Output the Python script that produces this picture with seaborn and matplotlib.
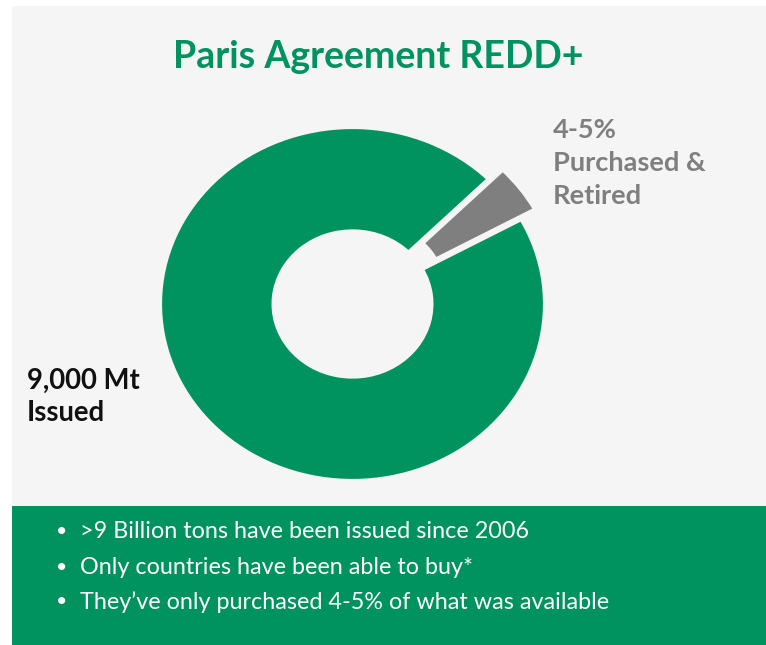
import matplotlib
matplotlib.use("Agg")
import matplotlib.pyplot as plt
import seaborn as sns
from matplotlib.patches import Rectangle

# Data
segments = ["Purchased & Retired", "Issued (not purchased)"]
shares = [4.5, 95.5]
title = "Paris Agreement REDD+"
purchased_label = ["4-5%", "Purchased &", "Retired"]
issued_label = ["9,000 Mt", "Issued"]
bullets = [
    ">9 Billion tons have been issued since 2006",
    "Only countries have been able to buy*",
    "They\u2019ve only purchased 4-5% of what was available",
]

GREEN = "#00925f"
GREY = "#7f7f7f"
PANEL = "#f5f5f5"

sns.set_theme(style="white")
plt.rcParams["font.family"] = ["Lato", "DejaVu Sans"]

W, H = 766, 645
fig = plt.figure(figsize=(W / 100, H / 100), dpi=100)
fig.patch.set_facecolor("white")


def fx(x):
    return x / W


def fy(y):
    return 1 - y / H


# background panel and bottom banner
fig.patches.append(Rectangle((fx(12), fy(506)), 1, fy(6) - fy(506),
                             transform=fig.transFigure, facecolor=PANEL,
                             edgecolor="none", zorder=-2))
fig.patches.append(Rectangle((fx(12), 0), 1, fy(506),
                             transform=fig.transFigure, facecolor=GREEN,
                             edgecolor="none", zorder=-2))

# donut axes: centre (352.5, 304) px, radii 192.5 x 177 px
cx, cy, rx, ry = 352.5, 304, 192.5, 177
ax_w, ax_h = 2.5 * rx, 2.5 * ry
ax = fig.add_axes([fx(cx - ax_w / 2), fy(cy + ax_h / 2), ax_w / W, ax_h / H])
ax.set_zorder(1)
ax.set_facecolor("none")
ax.patch.set_alpha(0)

pal = sns.color_palette([GREY, GREEN])
gray_span = shares[0] / sum(shares) * 360
wedges, _ = ax.pie(
    shares,
    colors=pal,
    startangle=36.8 - gray_span / 2,
    counterclock=True,
    explode=[0.09, 0],
    wedgeprops=dict(width=0.59, edgecolor=PANEL, linewidth=3),
)
for w in wedges:
    w.set_clip_on(False)
ax.set_aspect("auto")
ax.set_xlim(-1.25, 1.25)
ax.set_ylim(-1.25, 1.25)
ax.axis("off")

# title
fig.text(fx(378), fy(57), title, ha="center", va="center",
         fontsize=27, fontweight="bold", color=GREEN)

# slice labels
for i, line in enumerate(purchased_label):
    fig.text(fx(553), fy(130 + 33 * i), line, ha="left", va="center",
             fontsize=19.6, fontweight="bold", color=GREY)
for i, line in enumerate(issued_label):
    fig.text(fx(27), fy(381 + 32 * i), line, ha="left", va="center",
             fontsize=19.8, fontweight="bold", color="#111111")

# bullet list in the banner
for i, line in enumerate(bullets):
    y = 532 + 35 * i
    fig.text(fx(56), fy(y), "\u2022", ha="left", va="center",
             fontsize=14, color="white")
    fig.text(fx(80), fy(y), line, ha="left", va="center",
             fontsize=16.8, color="white")

fig.savefig("out.png", dpi=100, facecolor=fig.get_facecolor())
